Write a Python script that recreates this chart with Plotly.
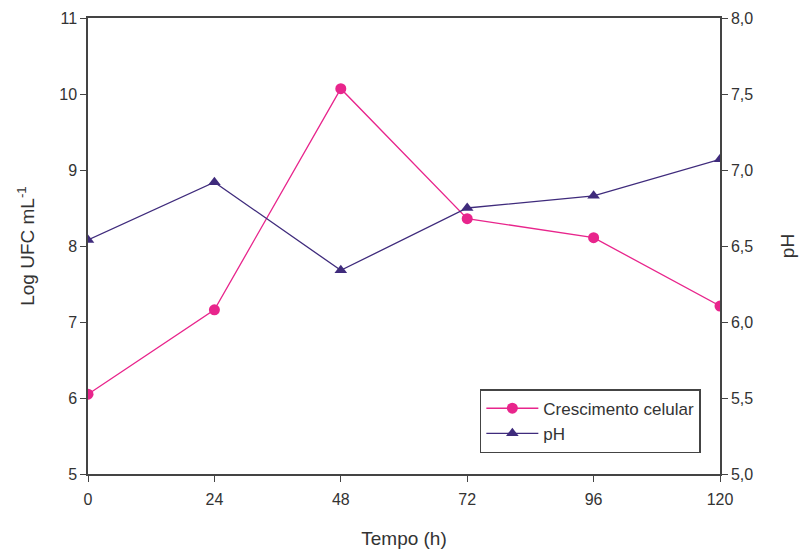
import plotly.graph_objects as go

tempo = [0, 24, 48, 72, 96, 120]
crescimento = [6.05, 7.16, 10.07, 8.36, 8.11, 7.21]
ph = [6.54, 6.92, 6.34, 6.75, 6.83, 7.07]
x_ticks = [0, 24, 48, 72, 96, 120]
y_ticks = [5, 6, 7, 8, 9, 10, 11]
ph_ticks = [5.0, 5.5, 6.0, 6.5, 7.0, 7.5, 8.0]
ph_labels = ["5,0", "5,5", "6,0", "6,5", "7,0", "7,5", "8,0"]

pink = "#E8258C"
purple = "#3F2B7C"
axcol = "#444444"

fig = go.Figure()
fig.add_trace(go.Scatter(x=tempo, y=crescimento, mode="lines+markers", name="Crescimento celular",
                         line=dict(color=pink, width=1.3),
                         marker=dict(symbol="circle", size=11, color=pink), yaxis="y"))
fig.add_trace(go.Scatter(x=tempo, y=ph, mode="lines+markers", name="pH",
                         line=dict(color=purple, width=1.3),
                         marker=dict(symbol="triangle-up", size=11, color=purple), yaxis="y2"))

font = dict(family="Liberation Sans, Arial, sans-serif", size=16, color="#333333")
fig.update_layout(
    width=801, height=552,
    margin=dict(l=88, r=81, t=18, b=78),
    plot_bgcolor="white", paper_bgcolor="white",
    font=font,
    showlegend=True,
    legend=dict(x=0.62, y=0.186, xanchor="left", yanchor="top",
                bordercolor=axcol, borderwidth=1.5, bgcolor="white",
                font=dict(size=17, color="#333333"), tracegroupgap=0,
                itemwidth=52),
    xaxis=dict(range=[0, 120], tickvals=x_ticks, showgrid=False, zeroline=False,
               showline=True, linecolor=axcol, linewidth=1.5, mirror=True,
               ticks="outside", ticklen=6, tickcolor=axcol, tickwidth=1,
               tickfont=dict(size=16), automargin=False, ticklabelstandoff=4,
               title=dict(text="Tempo (h)", font=dict(size=19), standoff=25)),
    yaxis=dict(range=[5, 11], tickvals=y_ticks, showgrid=False, zeroline=False,
               showline=True, linecolor=axcol, linewidth=1.5,
               ticks="outside", ticklen=6, tickcolor=axcol, tickwidth=1,
               tickfont=dict(size=16), automargin=False,
               title=dict(text="Log UFC mL<sup>-1</sup>", font=dict(size=19), standoff=20)),
    yaxis2=dict(range=[5, 8], tickvals=ph_ticks, ticktext=ph_labels, overlaying="y", side="right",
                showgrid=False, zeroline=False,
                showline=True, linecolor=axcol, linewidth=1.5,
                ticks="outside", ticklen=6, tickcolor=axcol, tickwidth=1,
                tickfont=dict(size=16), automargin=False,
                title=dict(text="pH", font=dict(size=19), standoff=28)),
)
fig.write_html("out.html")
